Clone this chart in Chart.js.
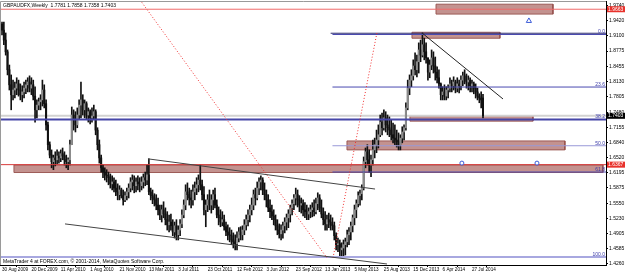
<!DOCTYPE html>
<html>
<head>
<meta charset="utf-8">
<script src="https://cdn.jsdelivr.net/npm/chart.js@4.4.1/dist/chart.umd.min.js"></script>
<style>
html,body{margin:0;padding:0;background:#fff;}
canvas{display:block;}
</style>
</head>
<body>
<canvas id="chart" width="625" height="274"></canvas>
<script>
// GBPAUD weekly, one bar per week from 30 Aug 2009
let dateLabels=["30 Aug 2009","20 Dec 2009","11 Apr 2010","1 Aug 2010","21 Nov 2010","13 Mar 2011","3 Jul 2011","23 Oct 2011","12 Feb 2012","3 Jun 2012","23 Sep 2012","13 Jan 2013","5 May 2013","25 Aug 2013","15 Dec 2013","6 Apr 2014","27 Jul 2014"];

let closes=[1.922,1.901,1.876,1.838,1.806,1.785,1.795,1.799,1.808,1.795,
1.785,1.791,1.799,1.806,1.812,1.799,1.806,1.782,1.753,1.763,
1.770,1.774,1.795,1.766,1.721,1.679,1.657,1.643,1.651,1.647,
1.655,1.651,1.660,1.655,1.647,1.643,1.647,1.679,1.742,1.732,
1.721,1.742,1.763,1.774,1.753,1.766,1.742,1.749,1.736,1.740,
1.749,1.710,1.679,1.651,1.630,1.621,1.615,1.613,1.609,1.596,
1.600,1.587,1.579,1.573,1.583,1.571,1.562,1.571,1.579,1.587,
1.600,1.604,1.592,1.600,1.596,1.592,1.600,1.609,1.604,1.615,
1.579,1.571,1.566,1.562,1.551,1.541,1.530,1.541,1.532,1.520,
1.509,1.515,1.507,1.494,1.507,1.488,1.498,1.511,1.530,1.551,
1.579,1.573,1.566,1.562,1.579,1.587,1.594,1.604,1.594,1.573,
1.541,1.551,1.562,1.551,1.562,1.573,1.551,1.530,1.524,1.515,
1.520,1.505,1.494,1.488,1.486,1.477,1.473,1.469,1.481,1.494,
1.488,1.498,1.509,1.520,1.530,1.541,1.551,1.573,1.566,1.587,
1.600,1.604,1.583,1.573,1.562,1.545,1.537,1.528,1.520,1.507,
1.498,1.490,1.498,1.507,1.515,1.524,1.532,1.545,1.554,1.566,
1.573,1.562,1.551,1.554,1.541,1.537,1.532,1.537,1.541,1.545,
1.537,1.554,1.566,1.545,1.532,1.520,1.511,1.520,1.515,1.509,
1.507,1.486,1.467,1.469,1.456,1.460,1.467,1.473,1.488,1.494,
1.507,1.524,1.541,1.554,1.571,1.575,1.587,1.643,1.664,1.647,
1.636,1.647,1.668,1.679,1.689,1.700,1.727,1.715,1.736,1.721,
1.715,1.710,1.700,1.693,1.689,1.685,1.679,1.693,1.706,1.715,
1.757,1.799,1.816,1.825,1.846,1.838,1.855,1.880,1.869,1.891,
1.876,1.863,1.833,1.848,1.863,1.846,1.833,1.821,1.808,1.785,
1.791,1.782,1.795,1.799,1.808,1.804,1.812,1.799,1.808,1.804,
1.816,1.825,1.816,1.812,1.816,1.804,1.808,1.799,1.791,1.782,
1.778,1.774,1.7403];

let opens=[1.935,1.922,1.901,1.876,1.838,1.806,1.785,1.795,1.799,1.808,
1.795,1.785,1.791,1.799,1.806,1.812,1.799,1.806,1.782,1.753,
1.763,1.770,1.774,1.795,1.766,1.721,1.679,1.657,1.643,1.651,
1.647,1.655,1.651,1.660,1.655,1.647,1.643,1.647,1.679,1.742,
1.732,1.721,1.742,1.763,1.774,1.753,1.766,1.742,1.749,1.736,
1.740,1.749,1.710,1.679,1.651,1.630,1.621,1.615,1.613,1.609,
1.596,1.600,1.587,1.579,1.573,1.583,1.571,1.562,1.571,1.579,
1.587,1.600,1.604,1.592,1.600,1.596,1.592,1.600,1.609,1.604,
1.615,1.579,1.571,1.566,1.562,1.551,1.541,1.530,1.541,1.532,
1.520,1.509,1.515,1.507,1.494,1.507,1.488,1.498,1.511,1.530,
1.551,1.579,1.573,1.566,1.562,1.579,1.587,1.594,1.604,1.594,
1.573,1.541,1.551,1.562,1.551,1.562,1.573,1.551,1.530,1.524,
1.515,1.520,1.505,1.494,1.488,1.486,1.477,1.473,1.469,1.481,
1.494,1.488,1.498,1.509,1.520,1.530,1.541,1.551,1.573,1.566,
1.587,1.600,1.604,1.583,1.573,1.562,1.545,1.537,1.528,1.520,
1.507,1.498,1.490,1.498,1.507,1.515,1.524,1.532,1.545,1.554,
1.566,1.573,1.562,1.551,1.554,1.541,1.537,1.532,1.537,1.541,
1.545,1.537,1.554,1.566,1.545,1.532,1.520,1.511,1.520,1.515,
1.509,1.507,1.486,1.467,1.469,1.456,1.460,1.467,1.473,1.488,
1.494,1.507,1.524,1.541,1.554,1.571,1.575,1.587,1.643,1.664,
1.647,1.636,1.647,1.668,1.679,1.689,1.700,1.727,1.715,1.736,
1.721,1.715,1.710,1.700,1.693,1.689,1.685,1.679,1.693,1.706,
1.715,1.757,1.799,1.816,1.825,1.846,1.838,1.855,1.880,1.869,
1.891,1.876,1.863,1.833,1.848,1.863,1.846,1.833,1.821,1.808,
1.785,1.791,1.782,1.795,1.799,1.808,1.804,1.812,1.799,1.808,
1.804,1.816,1.825,1.816,1.812,1.816,1.804,1.808,1.799,1.791,
1.782,1.778,1.7781];

let highs=[1.939,1.939,1.916,1.880,1.848,1.827,1.816,1.812,1.821,1.816,
1.808,1.804,1.812,1.816,1.821,1.825,1.821,1.816,1.802,1.774,
1.778,1.785,1.816,1.806,1.774,1.727,1.685,1.668,1.657,1.664,
1.668,1.664,1.668,1.672,1.664,1.657,1.651,1.689,1.759,1.753,
1.749,1.757,1.774,1.812,1.785,1.774,1.770,1.757,1.753,1.757,
1.763,1.753,1.715,1.689,1.657,1.636,1.630,1.626,1.621,1.617,
1.613,1.609,1.604,1.596,1.592,1.587,1.583,1.579,1.587,1.596,
1.609,1.615,1.613,1.609,1.613,1.609,1.611,1.617,1.621,1.636,
1.649,1.587,1.583,1.575,1.573,1.566,1.551,1.551,1.558,1.545,
1.537,1.530,1.532,1.520,1.515,1.520,1.507,1.520,1.541,1.562,
1.594,1.598,1.587,1.583,1.594,1.600,1.609,1.615,1.636,1.604,
1.590,1.562,1.573,1.583,1.573,1.583,1.587,1.562,1.547,1.541,
1.537,1.530,1.515,1.509,1.503,1.498,1.492,1.488,1.494,1.503,
1.505,1.507,1.520,1.530,1.541,1.551,1.566,1.583,1.587,1.600,
1.609,1.613,1.609,1.598,1.583,1.573,1.562,1.551,1.541,1.530,
1.520,1.511,1.509,1.515,1.524,1.532,1.541,1.551,1.562,1.573,
1.587,1.583,1.571,1.566,1.562,1.556,1.551,1.545,1.551,1.556,
1.562,1.566,1.577,1.573,1.562,1.545,1.537,1.530,1.534,1.530,
1.524,1.515,1.492,1.481,1.477,1.471,1.477,1.481,1.498,1.503,
1.515,1.530,1.551,1.562,1.579,1.583,1.594,1.653,1.672,1.679,
1.668,1.657,1.689,1.693,1.710,1.721,1.742,1.746,1.753,1.749,
1.742,1.738,1.732,1.725,1.721,1.710,1.704,1.700,1.717,1.721,
1.768,1.816,1.827,1.838,1.859,1.874,1.869,1.895,1.901,1.916,
1.905,1.895,1.863,1.859,1.880,1.876,1.865,1.844,1.838,1.810,
1.802,1.806,1.802,1.806,1.821,1.816,1.823,1.816,1.821,1.816,
1.825,1.833,1.838,1.829,1.825,1.821,1.816,1.812,1.808,1.799,
1.787,1.791,1.7858];

let lows=[1.912,1.891,1.869,1.827,1.795,1.753,1.774,1.778,1.785,1.782,
1.774,1.770,1.778,1.787,1.791,1.791,1.785,1.774,1.727,1.736,
1.753,1.753,1.761,1.757,1.710,1.668,1.651,1.630,1.626,1.634,
1.638,1.640,1.643,1.647,1.636,1.630,1.626,1.636,1.679,1.710,
1.706,1.715,1.732,1.736,1.742,1.736,1.732,1.727,1.723,1.727,
1.732,1.700,1.668,1.640,1.621,1.609,1.604,1.600,1.594,1.587,
1.583,1.579,1.571,1.562,1.562,1.566,1.551,1.558,1.562,1.566,
1.579,1.583,1.577,1.579,1.583,1.579,1.583,1.587,1.592,1.594,
1.573,1.562,1.554,1.549,1.541,1.530,1.520,1.515,1.524,1.509,
1.498,1.494,1.498,1.486,1.481,1.477,1.477,1.486,1.503,1.524,
1.541,1.562,1.551,1.545,1.551,1.562,1.573,1.579,1.583,1.562,
1.530,1.505,1.537,1.541,1.534,1.541,1.545,1.524,1.509,1.505,
1.507,1.498,1.486,1.477,1.473,1.467,1.460,1.456,1.456,1.473,
1.477,1.477,1.488,1.498,1.507,1.515,1.530,1.541,1.551,1.562,
1.573,1.583,1.573,1.562,1.547,1.537,1.524,1.520,1.509,1.498,
1.488,1.481,1.477,1.481,1.492,1.498,1.503,1.515,1.530,1.541,
1.551,1.547,1.537,1.534,1.528,1.524,1.520,1.520,1.524,1.526,
1.528,1.532,1.541,1.537,1.524,1.509,1.498,1.498,1.503,1.498,
1.498,1.477,1.456,1.452,1.443,1.439,1.441,1.445,1.462,1.467,
1.477,1.494,1.509,1.524,1.547,1.551,1.562,1.583,1.630,1.636,
1.621,1.611,1.636,1.651,1.662,1.672,1.696,1.700,1.710,1.706,
1.700,1.696,1.689,1.683,1.679,1.674,1.668,1.668,1.683,1.689,
1.710,1.753,1.785,1.802,1.816,1.827,1.823,1.831,1.855,1.865,
1.859,1.852,1.816,1.821,1.838,1.831,1.816,1.810,1.799,1.774,
1.774,1.774,1.774,1.778,1.791,1.791,1.795,1.789,1.791,1.789,
1.795,1.804,1.808,1.799,1.795,1.791,1.791,1.787,1.778,1.774,
1.768,1.757,1.7358];

let priceTicks=[1.9740,1.9420,1.9100,1.8775,1.8455,1.8130,1.7805,1.7480,1.7155,1.6840,1.6520,1.6195,1.5875,1.5550,1.5230,1.4905,1.4585,1.4260];

// horizontal levels drawn over the whole chart
let redLevels=[1.9663,1.6367];
let bidPrice=1.7403;
let blueLevel=1.7324;
let bottomLevel=1.4408;
// fibonacci retracement, starts at bar 180
let fibNames=["0.0","23.6","38.2","50.0","61.8","100.0"];
let fibPrices=[1.9127,1.8013,1.7324,1.6768,1.6211,1.4408];
let fibStart=180;
let topLine=[179,1.9154];

// rectangles: [fromBar, toBar, top, bottom]
let rects=[[236.4,300.1,1.977,1.956],[223.3,271.2,1.9175,1.9048],[222.2,289.2,1.740,1.729],[187.9,306.6,1.687,1.668],[6.5,327.3,1.636,1.620]];

// trend lines [[bar,price],[bar,price]]
let trendLines=[[[228.8,1.916],[272.9,1.776]],[[79.5,1.649],[203.2,1.585]],[[34.3,1.511],[209.7,1.426]]];
let dotLines=[[[75.2,1.986],[177,1.439]],[[180.3,1.439],[204.2,1.916]]];

let arrowUp=[[287,1.9415]];
let marks=[[250.5,1.640],[291.4,1.640]];

let priceBoxes=[[1.9663,"#e8322c"],[1.7403,"#000"],[1.6367,"#e8322c"]];

let xMin=-1.1, xMax=329;

Chart.defaults.font.family="'Liberation Sans', Arial, sans-serif";
Chart.defaults.font.size=5;
Chart.defaults.color="#000";

let ds=[];

function hline(p,x0,x1,color,w,dash,ord){
ds.push({type:"line",data:[{x:x0,y:p},{x:x1,y:p}],borderColor:color,borderWidth:w,borderDash:dash||[],pointRadius:0,fill:false,order:ord||2});
}

// rectangles behind everything
rects.forEach(r=>{
ds.push({type:"line",
data:[{x:r[0],y:r[2]},{x:r[1],y:r[2]},{x:r[1],y:r[3]},{x:r[0],y:r[3]},{x:r[0],y:r[2]}],
borderColor:"rgba(150,80,75,0.9)",borderWidth:1,backgroundColor:"rgba(175,110,105,0.75)",
fill:"shape",pointRadius:0,tension:0,order:20});
});

hline(bidPrice,xMin,xMax,"#d2d2d2",2,null,15);
hline(redLevels[0],xMin,xMax,"#f06a6a",1);
hline(redLevels[1],xMin,xMax,"#d83a3a",1);
hline(blueLevel,xMin,xMax,"#4646a8",2);
hline(bottomLevel,xMin,xMax,"#a8a8e0",2);
hline(topLine[1],topLine[0],xMax,"#2a2a70",1);

fibPrices.forEach((p,i)=>{
let c=(i==3||i==5)?"#9a9ad8":"#4a4ab0";
hline(p,fibStart,xMax,c,1);
});

trendLines.forEach((t,i)=>{
ds.push({type:"line",data:t.map(q=>({x:q[0],y:q[1]})),borderColor:i==0?"#222":"#444",borderWidth:1,pointRadius:0,fill:false,order:1});
});
dotLines.forEach(t=>{
ds.push({type:"line",data:t.map(q=>({x:q[0],y:q[1]})),borderColor:"#f03030",borderWidth:1,borderDash:[1,2],pointRadius:0,fill:false,order:1});
});

ds.push({type:"line",showLine:false,data:arrowUp.map(q=>({x:q[0],y:q[1]})),pointStyle:"triangle",pointRadius:3,borderColor:"#3a5ad8",backgroundColor:"#fff",borderWidth:1,order:0});
ds.push({type:"line",showLine:false,data:marks.map(q=>({x:q[0],y:q[1]})),pointStyle:"circle",pointRadius:2,borderColor:"#3a5ad8",backgroundColor:"#fff",borderWidth:1,order:0});

// candles: wick then body
ds.push({type:"bar",data:highs.map((h,i)=>({x:i,y:[lows[i],h]})),backgroundColor:"#111",barThickness:1,grouped:false,order:4});
ds.push({type:"bar",data:opens.map((o,i)=>({x:i,y:[o,closes[i]]})),
backgroundColor:opens.map((o,i)=>closes[i]>=o?"#8c8c8c":"#111"),barThickness:1.4,grouped:false,order:3});

const overlay={
id:"overlay",
afterDraw(c){
let ctx=c.ctx,a=c.chartArea,y=c.scales.y;
ctx.save();
ctx.strokeStyle="#9a9a9a";
ctx.lineWidth=1;
ctx.beginPath();
ctx.moveTo(a.left+0.5,a.bottom);ctx.lineTo(a.left+0.5,a.top+0.5);ctx.lineTo(a.right,a.top+0.5);
ctx.stroke();
ctx.font="5px 'Liberation Sans', Arial, sans-serif";
ctx.textBaseline="middle";
ctx.fillStyle="#000";
ctx.textAlign="left";
ctx.fillText("GBPAUDFX,Weekly  1.7781 1.7858 1.7358 1.7403",3,6);
ctx.fillText("MetaTrader 4 at FOREX.com, \u00a9 2001-2014, MetaQuotes Software Corp.",3,262);
// fibo level names
ctx.fillStyle="#3a3aa8";
ctx.textAlign="right";
ctx.textBaseline="bottom";
fibPrices.forEach((p,i)=>{
ctx.fillText(fibNames[i],a.right-1,y.getPixelForValue(p));
});
// price tags on the axis
ctx.textAlign="left";
ctx.textBaseline="middle";
priceBoxes.forEach(b=>{
let py=y.getPixelForValue(b[0]);
ctx.fillStyle=b[1];
ctx.fillRect(a.right+1,py-3,18,6);
ctx.fillStyle="#fff";
ctx.fillText(b[0].toFixed(4),a.right+2,py);
});
ctx.restore();
}
};

function noPad(ax){
ax.paddingTop=0;ax.paddingBottom=0;ax.paddingLeft=0;ax.paddingRight=0;
}

new Chart(document.getElementById("chart"),{
type:"bar",
data:{datasets:ds},
options:{
responsive:false,
animation:false,
layout:{autoPadding:false,padding:{top:1,left:0,right:0,bottom:0}},
plugins:{legend:{display:false},tooltip:{enabled:false}},
scales:{
x:{
type:"linear",min:xMin,max:xMax,offset:false,
grid:{display:true,drawOnChartArea:false,tickLength:2,color:"#000"},
border:{display:true,color:"#000"},
// a date label every 16 weekly bars
afterBuildTicks:ax=>{ax.ticks=dateLabels.map((d,i)=>({value:i*16}));},
afterFit:ax=>{ax.height=9;noPad(ax);},
ticks:{autoSkip:false,maxRotation:0,minRotation:0,align:"start",padding:0,font:{size:4.6},callback:(v,i)=>dateLabels[i]}
},
y:{
position:"right",min:1.42387,max:1.98378,beginAtZero:false,
grid:{display:true,drawOnChartArea:false,tickLength:2,color:"#000"},
border:{display:true,color:"#000"},
afterBuildTicks:ax=>{ax.ticks=priceTicks.map(v=>({value:v}));},
afterFit:ax=>{ax.width=19;noPad(ax);},
ticks:{padding:1,font:{size:5},callback:v=>v.toFixed(4)}
}
}
},
plugins:[overlay]
});
</script>
</body>
</html>
